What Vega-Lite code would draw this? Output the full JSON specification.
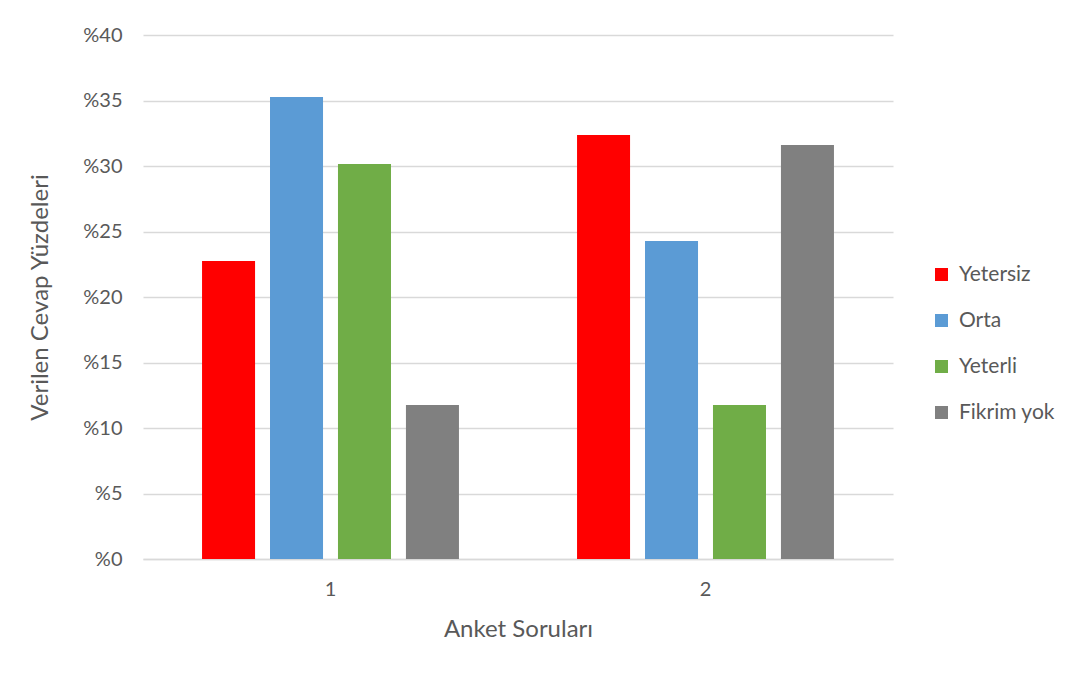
{
  "$schema": "https://vega.github.io/schema/vega-lite/v6.json",
  "width": 750,
  "height": 524,
  "autosize": {"type": "none"},
  "padding": {"left": 143, "top": 35, "right": 178, "bottom": 116},
  "background": "white",
  "config": {
    "font": "Lato",
    "view": {"stroke": null},
    "axis": {"labelColor": "#595959", "titleColor": "#595959", "labelFont": "Lato", "titleFont": "Lato", "titleFontWeight": "normal"}
  },
  "data": {
    "values": [
      {"soru": "1", "cevap": "Yetersiz", "yuzde": 22.75},
      {"soru": "1", "cevap": "Orta", "yuzde": 35.27},
      {"soru": "1", "cevap": "Yeterli", "yuzde": 30.15},
      {"soru": "1", "cevap": "Fikrim yok", "yuzde": 11.76},
      {"soru": "2", "cevap": "Yetersiz", "yuzde": 32.37},
      {"soru": "2", "cevap": "Orta", "yuzde": 24.27},
      {"soru": "2", "cevap": "Yeterli", "yuzde": 11.76},
      {"soru": "2", "cevap": "Fikrim yok", "yuzde": 31.6}
    ]
  },
  "mark": {"type": "bar"},
  "encoding": {
    "x": {
      "field": "soru", "type": "nominal",
      "scale": {"paddingInner": 0.275, "paddingOuter": 0.1375},
      "axis": {
        "title": "Anket Soruları", "labelAngle": 0, "labelFontSize": 20, "titleFontSize": 24,
        "ticks": false, "domainColor": "#d9d9d9", "domainWidth": 1.5,
        "labelPadding": 20, "titlePadding": 18
      }
    },
    "xOffset": {
      "field": "cevap", "type": "nominal",
      "sort": ["Yetersiz", "Orta", "Yeterli", "Fikrim yok"],
      "scale": {"paddingInner": 0.22, "paddingOuter": 0.11}
    },
    "y": {
      "field": "yuzde", "type": "quantitative",
      "scale": {"domain": [0, 40], "nice": false},
      "axis": {
        "title": "Verilen Cevap Yüzdeleri", "values": [0, 5, 10, 15, 20, 25, 30, 35, 40],
        "labelExpr": "'%' + datum.value", "labelFontSize": 20, "titleFontSize": 24,
        "ticks": false, "domain": false, "gridColor": "#d9d9d9", "gridWidth": 1.5,
        "labelPadding": 21, "titlePadding": 30
      }
    },
    "color": {
      "field": "cevap", "type": "nominal",
      "sort": ["Yetersiz", "Orta", "Yeterli", "Fikrim yok"],
      "scale": {"domain": ["Yetersiz", "Orta", "Yeterli", "Fikrim yok"], "range": ["#FF0000", "#5B9BD5", "#70AD47", "#808080"]},
      "legend": {
        "title": null, "orient": "none", "legendX": 788, "legendY": 229,
        "symbolType": "square", "symbolSize": 170, "symbolStrokeWidth": 0,
        "labelFontSize": 21, "labelColor": "#595959", "rowPadding": 24, "labelOffset": 7
      }
    }
  }
}
